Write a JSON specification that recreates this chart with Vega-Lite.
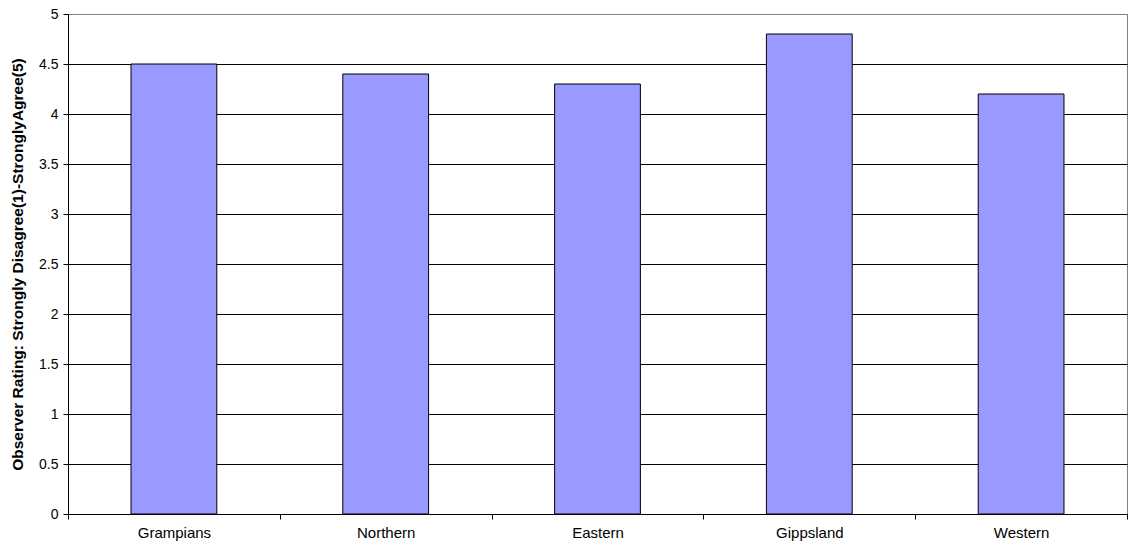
{
  "$schema": "https://vega.github.io/schema/vega-lite/v6.json",
  "width": 1059,
  "height": 500,
  "autosize": {"type": "none"},
  "padding": {"left": 68, "top": 14, "right": 4, "bottom": 36},
  "background": "white",
  "config": {
    "font": "Liberation Sans",
    "view": {"stroke": "#808080", "strokeWidth": 1}
  },
  "data": {
    "values": [
      {"region": "Grampians", "rating": 4.5},
      {"region": "Northern", "rating": 4.4},
      {"region": "Eastern", "rating": 4.3},
      {"region": "Gippsland", "rating": 4.8},
      {"region": "Western", "rating": 4.2}
    ]
  },
  "mark": {
    "type": "bar",
    "width": {"band": 0.405},
    "fill": "#9999FF",
    "stroke": "#000000",
    "strokeWidth": 1
  },
  "encoding": {
    "x": {
      "field": "region",
      "type": "nominal",
      "sort": null,
      "scale": {"paddingInner": 0, "paddingOuter": 0},
      "axis": {
        "title": null,
        "labelAngle": 0,
        "labelFontSize": 15,
        "labelColor": "#000",
        "labelPadding": 6,
        "tickBand": "extent",
        "tickColor": "#000",
        "tickSize": 5,
        "domainColor": "#000",
        "grid": false
      }
    },
    "y": {
      "field": "rating",
      "type": "quantitative",
      "scale": {"domain": [0, 5], "nice": false},
      "axis": {
        "title": "Observer Rating:  Strongly Disagree(1)-StronglyAgree(5)",
        "titleFontSize": 15.5,
        "titleFontWeight": "bold",
        "titleColor": "#000",
        "titlePadding": 13,
        "values": [0, 0.5, 1, 1.5, 2, 2.5, 3, 3.5, 4, 4.5, 5],
        "format": "~g",
        "labelFontSize": 14,
        "labelColor": "#000",
        "labelPadding": 5,
        "tickColor": "#000",
        "tickSize": 5,
        "domainColor": "#000",
        "grid": true,
        "gridColor": {"condition": {"test": "datum.value == 5", "value": "#808080"}, "value": "#000000"},
        "gridOpacity": 1,
        "gridWidth": 1
      }
    }
  }
}
